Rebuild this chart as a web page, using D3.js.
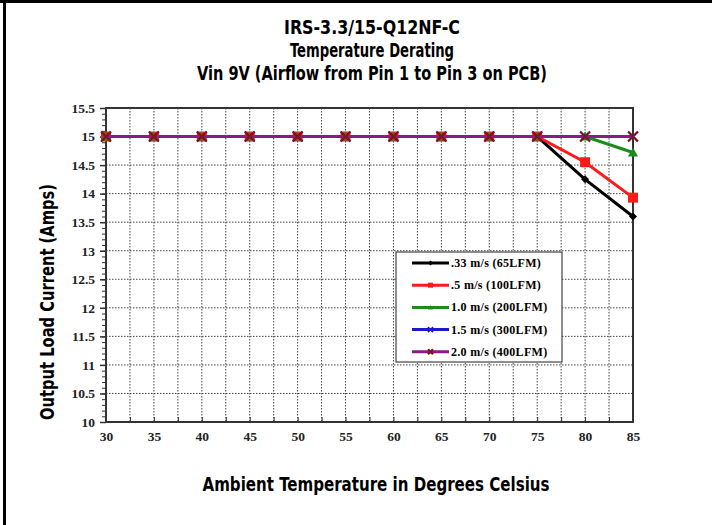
<!DOCTYPE html>
<html>
<head>
<meta charset="utf-8">
<script src="https://cdn.jsdelivr.net/npm/d3@7"></script>
<style>
  html, body { margin: 0; padding: 0; background: #fff; }
  svg { display: block; }
</style>
</head>
<body>
<div id="chart-div"></div>
<script>
// data
var temps = [30, 35, 40, 45, 50, 55, 60, 65, 70, 75, 80, 85];
var air033 = [15, 15, 15, 15, 15, 15, 15, 15, 15, 15, 14.25, 13.6];
var air05  = [15, 15, 15, 15, 15, 15, 15, 15, 15, 15, 14.55, 13.93];
var air10  = [15, 15, 15, 15, 15, 15, 15, 15, 15, 15, 15, 14.72];
var air15  = [15, 15, 15, 15, 15, 15, 15, 15, 15, 15, 15, 15];
var air20  = [15, 15, 15, 15, 15, 15, 15, 15, 15, 15, 15, 15];
var seriesNames = [".33 m/s (65LFM)", ".5 m/s (100LFM)", "1.0 m/s (200LFM)", "1.5 m/s (300LFM)", "2.0 m/s (400LFM)"];
var xTicks = [30, 35, 40, 45, 50, 55, 60, 65, 70, 75, 80, 85];
var yTicks = [10, 10.5, 11, 11.5, 12, 12.5, 13, 13.5, 14, 14.5, 15, 15.5];
var titleLines = ["IRS-3.3/15-Q12NF-C", "Temperature Derating", "Vin 9V (Airflow from Pin 1 to Pin 3 on PCB)"];
var titleWidths = [176, 164, 350];

var series = [
    {name: seriesNames[0], values: air033, color: "#000000", marker: "diamond"},
    {name: seriesNames[1], values: air05,  color: "#ff1a1a", marker: "square"},
    {name: seriesNames[2], values: air10,  color: "#1a8c1a", marker: "triangle"},
    {name: seriesNames[3], values: air15,  color: "#1a1acc", marker: "cross"},
    {name: seriesNames[4], values: air20,  color: "#8a1a8a", marker: "x", markerColor: "#7a1420"}
];

var width = 712, height = 525;
var plotLeft = 106, plotRight = 633, plotTop = 108, plotBottom = 422;

var titleFont = "'DejaVu Sans Condensed', 'Liberation Sans Narrow', 'Arial Narrow', sans-serif";
var tickFont = "'Liberation Serif', 'Times New Roman', serif";

var svg = d3.select("#chart-div").append("svg")
    .attr("width", width)
    .attr("height", height);

// frame (only top and left edges show in the crop)
svg.append("rect").attr("x", 0).attr("y", 0).attr("width", width).attr("height", 3).attr("fill", "#000");
svg.append("rect").attr("x", 3).attr("y", 0).attr("width", 3).attr("height", height).attr("fill", "#000");

var xScale = d3.scaleLinear().domain([30, 85]).range([plotLeft, plotRight]);
var yScale = d3.scaleLinear().domain([10, 15.5]).range([plotBottom, plotTop]);

function boldTitle(sel, size, len) {
    sel.style("font-family", titleFont)
        .style("font-stretch", "condensed")
        .style("font-weight", "bold")
        .style("font-size", size + "px")
        .attr("textLength", len)
        .attr("lengthAdjust", "spacingAndGlyphs");
}

function tickText(sel, size) {
    sel.style("font-family", tickFont)
        .style("font-weight", "bold")
        .style("font-size", size + "px")
        .attr("fill", "#222");
}

// title
svg.append("g").selectAll("text")
    .data(titleLines)
    .enter()
    .append("text")
        .attr("x", 372)
        .attr("y", function(d, i) { return 34 + i * 23; })
        .attr("text-anchor", "middle")
        .each(function(d, i) { boldTitle(d3.select(this), 20, titleWidths[i]); })
        .text(function(d) { return d; });

// grid: vertical every 2.5, horizontal every 0.5
var vGrid = d3.range(32.5, 85, 2.5);
svg.append("g").selectAll("line")
    .data(vGrid)
    .enter()
    .append("line")
        .attr("x1", function(d) { return xScale(d); })
        .attr("x2", function(d) { return xScale(d); })
        .attr("y1", plotTop)
        .attr("y2", plotBottom)
        .attr("stroke", "#444")
        .attr("stroke-width", 1)
        .attr("stroke-dasharray", "1.5,1.5");
svg.append("g").selectAll("line")
    .data(yTicks.slice(1, -1))
    .enter()
    .append("line")
        .attr("x1", plotLeft)
        .attr("x2", plotRight)
        .attr("y1", function(d) { return yScale(d); })
        .attr("y2", function(d) { return yScale(d); })
        .attr("stroke", "#444")
        .attr("stroke-width", 1)
        .attr("stroke-dasharray", "1.5,1.5");

// plot frame
svg.append("rect")
    .attr("x", plotLeft).attr("y", plotTop)
    .attr("width", plotRight - plotLeft).attr("height", plotBottom - plotTop)
    .attr("fill", "none")
    .attr("stroke", "#333")
    .attr("stroke-width", 2);

// y axis with minor ticks
svg.append("g")
    .attr("transform", "translate(" + plotLeft + ",0)")
    .call(d3.axisLeft(yScale).tickValues(d3.range(10, 15.51, 0.1)).tickSize(4).tickFormat(""))
    .call(function(g) { g.select(".domain").remove(); g.selectAll("line").attr("stroke", "#333"); });
svg.append("g")
    .attr("transform", "translate(" + plotLeft + ",0)")
    .call(d3.axisLeft(yScale).tickValues(yTicks).tickSize(6).tickPadding(5).tickFormat(function(d) { return d; }))
    .call(function(g) {
        g.select(".domain").remove();
        g.selectAll("line").attr("stroke", "#333").attr("stroke-width", 1.5);
        g.selectAll("text").call(tickText, 13.5);
    });

// x axis: minor ticks every 2.5, labels every 5
svg.append("g")
    .attr("transform", "translate(0," + plotBottom + ")")
    .call(d3.axisTop(xScale).tickValues(vGrid).tickSize(5).tickFormat(""))
    .call(function(g) { g.select(".domain").remove(); g.selectAll("line").attr("stroke", "#333"); });
svg.append("g")
    .attr("transform", "translate(0," + plotBottom + ")")
    .call(d3.axisBottom(xScale).tickValues(xTicks).tickSize(0).tickPadding(9).tickFormat(function(d) { return d; }))
    .call(function(g) {
        g.select(".domain").remove();
        g.selectAll("text").call(tickText, 13.5);
    });

// axis titles
svg.append("text")
    .attr("x", 376)
    .attr("y", 491)
    .attr("text-anchor", "middle")
    .call(boldTitle, 20, 347)
    .text("Ambient Temperature in Degrees Celsius");
svg.append("text")
    .attr("transform", "translate(54,302) rotate(-90)")
    .attr("text-anchor", "middle")
    .call(boldTitle, 20, 236)
    .text("Output Load Current (Amps)");

// markers
function drawMarker(g, type, color, size) {
    var s = size;
    if (type == "diamond") {
        g.append("path").attr("d", "M0," + (-s) + "L" + s + ",0L0," + s + "L" + (-s) + ",0Z").attr("fill", color);
    } else if (type == "square") {
        g.append("rect").attr("x", -s).attr("y", -s).attr("width", 2 * s).attr("height", 2 * s).attr("fill", color);
    } else if (type == "triangle") {
        g.append("path").attr("d", "M0," + (-s) + "L" + s + "," + (s * 0.8) + "L" + (-s) + "," + (s * 0.8) + "Z").attr("fill", color);
    } else if (type == "cross") {
        g.append("path").attr("d", "M" + (-s) + "," + (-s) + "L" + s + "," + s + "M" + (-s) + "," + s + "L" + s + "," + (-s))
            .attr("stroke", color).attr("stroke-width", 1.5).attr("fill", "none");
    } else if (type == "x") {
        g.append("path").attr("d", "M" + (-s) + "," + (-s) + "L" + s + "," + s + "M" + (-s) + "," + s + "L" + s + "," + (-s))
            .attr("stroke", color).attr("stroke-width", 2.2).attr("fill", "none");
    }
}

var markerSize = {diamond: 4, square: 5, triangle: 5, cross: 4.5, x: 5};

var line = d3.line()
    .x(function(d, i) { return xScale(temps[i]); })
    .y(function(d) { return yScale(d); });

series.forEach(function(s) {
    svg.append("path")
        .datum(s.values)
        .attr("d", line)
        .attr("fill", "none")
        .attr("stroke", s.color)
        .attr("stroke-width", 3);
    s.values.forEach(function(v, i) {
        var g = svg.append("g").attr("transform", "translate(" + xScale(temps[i]) + "," + yScale(v) + ")");
        drawMarker(g, s.marker, s.markerColor || s.color, markerSize[s.marker]);
    });
});

// legend
var legend = svg.append("g").attr("transform", "translate(396,252)");
legend.append("rect")
    .attr("width", 166).attr("height", 110)
    .attr("fill", "#fff")
    .attr("stroke", "#444")
    .attr("stroke-width", 1.2);
var legendItems = legend.selectAll("g.item")
    .data(series)
    .enter()
    .append("g")
        .attr("class", "item")
        .attr("transform", function(d, i) { return "translate(0," + (11 + i * 22.2) + ")"; });
legendItems.append("line")
    .attr("x1", 16).attr("x2", 53)
    .attr("stroke", function(d) { return d.color; })
    .attr("stroke-width", 3);
legendItems.each(function(d) {
    var g = d3.select(this).append("g").attr("transform", "translate(34.5,0)");
    drawMarker(g, d.marker, d.markerColor || d.color, 2.5);
});
legendItems.append("text")
    .attr("x", 55)
    .attr("y", 4)
    .style("font-family", tickFont)
    .style("font-weight", "bold")
    .style("font-size", "12px")
    .style("letter-spacing", "0.3px")
    .text(function(d) { return d.name; });
</script>
</body>
</html>
